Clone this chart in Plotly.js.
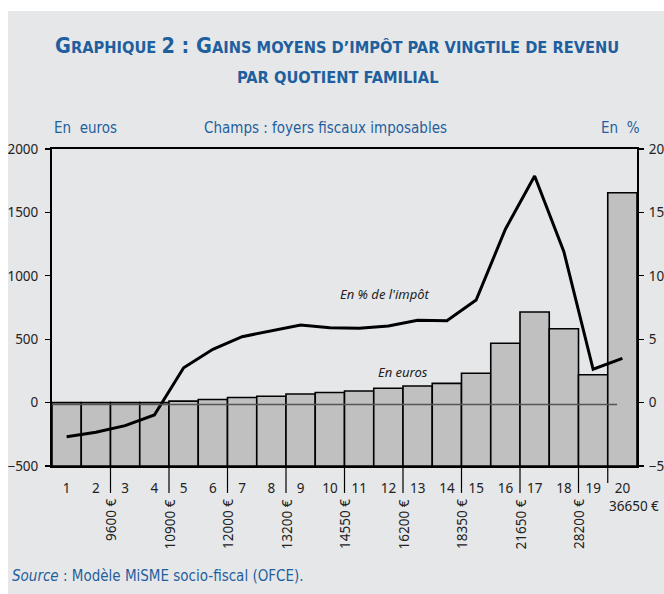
<!DOCTYPE html>
<html><head><meta charset="utf-8">
<script src="https://cdn.plot.ly/plotly-3.0.1.min.js"></script>
<style>
html,body{margin:0;padding:0;background:#ffffff;}
#chart{position:absolute;left:8px;top:11px;width:656px;height:583px;}
</style></head><body><div id="chart"></div>
<script>
// ---- data ----
const vingtiles = [1,2,3,4,5,6,7,8,9,10,11,12,13,14,15,16,17,18,19,20];
const gainEuros = [0,0,0,0,12,25,40,50,68,80,92,113,131,152,231,468,715,583,220,1655];
const gainPct = [-2.69,-2.34,-1.82,-0.98,2.75,4.2,5.2,5.65,6.12,5.9,5.86,6.04,6.5,6.46,8.09,13.67,17.87,11.9,2.63,3.49];
const seuilLabels = ['9600 €','10900 €','12000 €','13200 €','14550 €','16200 €','18350 €','21650 €','28200 €'];
const seuilApres = [2,4,6,8,10,12,14,16,18];
const dernierSeuilLabel = '36650 €';
const dernierSeuilApres = 19;
const baseEuros = -500;

// ---- styles ----
const BLUE = '#1f5f9e';
const NARROW = "'Liberation Sans Narrow','DejaVu Sans Condensed','Arial Narrow',sans-serif";
const TICKF = "'Noto Sans','Open Sans',sans-serif";

const barTrace = {
  type:'bar', x: vingtiles, y: gainEuros.map(v => v - baseEuros), base: baseEuros,
  marker:{color:'#c0c0c0', line:{color:'#000', width:1.6}},
  width: 1, hoverinfo:'skip', yaxis:'y'
};
const lineTrace = {
  type:'scatter', mode:'lines', x: vingtiles, y: gainPct, yaxis:'y2',
  line:{color:'#000', width:3}, hoverinfo:'skip'
};

const shapes = [];
const annotations = [];
seuilApres.forEach((k,i) => {
  shapes.push({type:'line', xref:'x', yref:'paper', x0:k+0.5, x1:k+0.5, y0:0, y1:-0.085,
    line:{color:'#000', width:1.2}, layer:'above'});
  annotations.push({xref:'x', yref:'paper', x:k+0.5, y:-0.099, text:seuilLabels[i],
    textangle:-90, showarrow:false, xanchor:'center', yanchor:'top', xshift:1,
    font:{family:TICKF, size:13.5, color:'#222'}});
});
shapes.push({type:'line', xref:'x', yref:'paper', x0:dernierSeuilApres+0.5, x1:dernierSeuilApres+0.5,
  y0:0, y1:-0.054, line:{color:'#000', width:1.2}, layer:'above'});
annotations.push({xref:'x', yref:'paper', x:dernierSeuilApres+1, y:-0.125, text:dernierSeuilLabel,
  showarrow:false, xanchor:'center', yanchor:'middle', xshift:12,
  font:{family:TICKF, size:13.5, color:'#222'}});
// gray zero line of the % scale
shapes.push({type:'line', xref:'x', yref:'y2', x0:0.5, x1:19.82, y0:-0.15, y1:-0.15,
  line:{color:'#555', width:1.3}, layer:'above'});

const big = s => `<span style="font-size:21.5px">${s}</span>`;
annotations.push({xref:'paper', yref:'paper', x:0.487, y:1.328, xanchor:'center', yanchor:'middle', showarrow:false,
  text: big('G')+'RAPHIQUE '+big('2 : G')+'AINS MOYENS D’IMPÔT PAR VINGTILE DE REVENU',
  font:{family:NARROW, size:16.3, color:BLUE, weight:'bold'}});
annotations.push({xref:'paper', yref:'paper', x:0.489, y:1.227, xanchor:'center', yanchor:'middle', showarrow:false,
  text:'PAR QUOTIENT FAMILIAL', font:{family:NARROW, size:16.3, color:BLUE, weight:'bold'}});
annotations.push({xref:'paper', yref:'paper', x:0, y:1.066, xanchor:'left', yanchor:'middle', showarrow:false,
  text:'En  euros', font:{family:NARROW, size:15, color:BLUE}});
annotations.push({xref:'paper', yref:'paper', x:0.468, y:1.066, xanchor:'center', yanchor:'middle', showarrow:false,
  text:'Champs : foyers fiscaux imposables', font:{family:NARROW, size:15, color:BLUE}});
annotations.push({xref:'paper', yref:'paper', x:1.0085, y:1.066, xanchor:'right', yanchor:'middle', showarrow:false,
  text:'En  %', font:{family:NARROW, size:15, color:BLUE}});
annotations.push({xref:'paper', yref:'paper', x:-0.0718, y:-0.347, xanchor:'left', yanchor:'middle', showarrow:false,
  text:'<i>Source</i> : Modèle MiSME socio-fiscal (OFCE).', font:{family:NARROW, size:15, color:BLUE}});
annotations.push({xref:'paper', yref:'paper', x:0.569, y:0.5426, xanchor:'center', yanchor:'middle', showarrow:false,
  text:"<i>En % de l'impôt</i>", font:{family:TICKF, size:13, color:'#222'}});
annotations.push({xref:'paper', yref:'paper', x:0.600, y:0.2965, xanchor:'center', yanchor:'middle', showarrow:false,
  text:'<i>En euros</i>', font:{family:TICKF, size:13, color:'#222'}});

const layout = {
  width:656, height:583,
  margin:{l:44, r:27, t:138, b:128, pad:0},
  paper_bgcolor:'#e6e7e9', plot_bgcolor:'#e6e7e9',
  showlegend:false, bargap:0,
  font:{family:TICKF, size:13, color:'#222'},
  xaxis:{range:[0.5,20.5], tickvals:vingtiles, ticktext:vingtiles.map(String), ticks:'',
    showline:true, mirror:true, linecolor:'#000', linewidth:2, showgrid:false, zeroline:false,
    ticklabelstandoff:9, tickfont:{family:TICKF, size:13.5, color:'#222'}, fixedrange:true},
  yaxis:{range:[-500,2000], dtick:500, tick0:0, ticks:'outside', ticklen:5, tickwidth:1.2, tickcolor:'#000',
    showline:true, linecolor:'#000', linewidth:2, showgrid:false, zeroline:false, ticklabelstandoff:4,
    tickfont:{family:TICKF, size:13.5, color:'#222'}, fixedrange:true},
  yaxis2:{range:[-5,20], dtick:5, tick0:0, overlaying:'y', side:'right', ticks:'outside', ticklen:5, tickwidth:1.2,
    tickcolor:'#000', showline:true, linecolor:'#000', linewidth:2, showgrid:false, zeroline:false, ticklabelstandoff:2,
    tickfont:{family:TICKF, size:13.5, color:'#222'}, fixedrange:true},
  shapes: shapes,
  annotations: annotations
};
Plotly.newPlot('chart', [barTrace, lineTrace], layout, {staticPlot:true, displayModeBar:false});
</script></body></html>
